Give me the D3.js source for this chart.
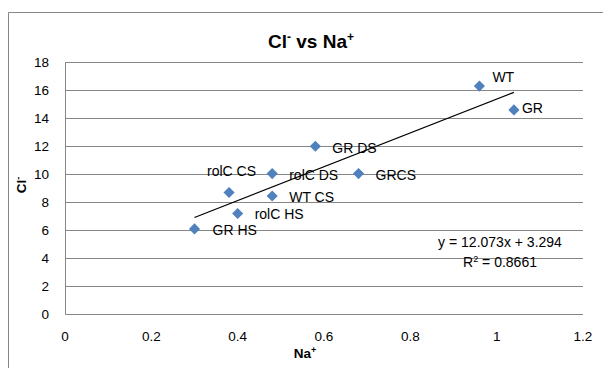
<!DOCTYPE html>
<html>
<head>
<meta charset="utf-8">
<script src="https://cdn.jsdelivr.net/npm/d3@7"></script>
<style>
	body { margin: 0; background: #fff; }
	svg { display: block; font-family: "Liberation Sans", Arial, sans-serif; }
</style>
</head>
<body>
<div id="chart"></div>
<script>
// data
var names = ["WT", "GR", "GR DS", "rolC DS", "GRCS", "rolC CS", "WT CS", "rolC HS", "GR HS"];
var na = [0.96, 1.04, 0.58, 0.48, 0.68, 0.38, 0.48, 0.40, 0.30];
var cl = [16.3, 14.6, 12.0, 10.05, 10.05, 8.7, 8.45, 7.2, 6.1];
var xTicks = [0, 0.2, 0.4, 0.6, 0.8, 1, 1.2];
var yTicks = [0, 2, 4, 6, 8, 10, 12, 14, 16, 18];
var slope = 12.073;
var intercept = 3.294;
var eqText = "y = 12.073x + 3.294";
var r2Text = "0.8661";

var w = 603, h = 368;
var xrange = [65, 583];
var yrange = [314.3, 62.3];
var grid = "#868686";
var blue = "#4F81BD";

// label offsets (dx, dy from the marker), some labels were moved by hand
var labelOff = {
	"WT": [13, -9], "GR": [8, -2], "GR DS": [17, 2], "rolC DS": [17, 1],
	"GRCS": [17, 1], "rolC CS": [-22, -21], "WT CS": [17, 1],
	"rolC HS": [17, 1], "GR HS": [18, 1]
};

var svg = d3.select("#chart").append("svg")
	.attr("width", w)
	.attr("height", h);

// outer chart border (runs off the right and bottom)
svg.append("path")
	.attr("d", "M8.5," + (h + 5) + "V12.5H" + (w + 5))
	.attr("fill", "none")
	.attr("stroke", grid)
	.attr("stroke-width", 1);

var xscale = d3.scaleLinear().domain([0, 1.2]).range(xrange);
var yscale = d3.scaleLinear().domain([0, 18]).range(yrange);

// horizontal grid
svg.selectAll("line.y-grid")
	.data(yTicks.filter(function(d){ return d > 0; }))
	.enter().append("line")
		.attr("class", "y-grid")
		.attr("x1", xrange[0])
		.attr("x2", xrange[1])
		.attr("y1", function(d){ return Math.round(yscale(d)) + 0.5; })
		.attr("y2", function(d){ return Math.round(yscale(d)) + 0.5; })
		.attr("stroke", grid)
		.attr("stroke-width", 1);

// axis lines
svg.append("path")
	.attr("d", "M" + (xrange[0] + 0.5) + "," + Math.round(yrange[1]) + "V" + (Math.round(yrange[0]) + 0.5) + "H" + xrange[1])
	.attr("fill", "none")
	.attr("stroke", grid)
	.attr("stroke-width", 1);

// tick labels
svg.selectAll("text.y-tick")
	.data(yTicks)
	.enter().append("text")
		.attr("class", "y-tick")
		.attr("x", 49)
		.attr("y", function(d){ return yscale(d); })
		.attr("dy", "0.35em")
		.attr("text-anchor", "end")
		.style("font-size", "13.5px")
		.attr("fill", "#000")
		.text(function(d){ return d; });

svg.selectAll("text.x-tick")
	.data(xTicks)
	.enter().append("text")
		.attr("class", "x-tick")
		.attr("x", function(d){ return xscale(d); })
		.attr("y", 341)
		.attr("text-anchor", "middle")
		.style("font-size", "13.5px")
		.attr("fill", "#000")
		.text(function(d){ return d; });

// title
var title = svg.append("text")
	.attr("x", 311)
	.attr("y", 48)
	.attr("text-anchor", "middle")
	.style("font-size", "19px")
	.style("font-weight", "bold");
title.append("tspan").text("Cl");
title.append("tspan").attr("dy", -7).style("font-size", "12px").text("-");
title.append("tspan").attr("dy", 7).text(" vs Na");
title.append("tspan").attr("dy", -7).style("font-size", "12px").text("+");

// axis titles
var xt = svg.append("text")
	.attr("x", 305)
	.attr("y", 358)
	.attr("text-anchor", "middle")
	.style("font-size", "13.5px")
	.style("font-weight", "bold");
xt.append("tspan").text("Na");
xt.append("tspan").attr("dy", -5).style("font-size", "9px").text("+");

var yt = svg.append("text")
	.attr("transform", "translate(26,185) rotate(-90)")
	.attr("text-anchor", "middle")
	.style("font-size", "13.5px")
	.style("font-weight", "bold");
yt.append("tspan").text("Cl");
yt.append("tspan").attr("dy", -5).style("font-size", "9px").text("-");

// trendline over the data range
var xmin = d3.min(na), xmax = d3.max(na);
svg.append("line")
	.attr("x1", xscale(xmin))
	.attr("y1", yscale(slope * xmin + intercept))
	.attr("x2", xscale(xmax))
	.attr("y2", yscale(slope * xmax + intercept))
	.attr("stroke", "#000")
	.attr("stroke-width", 1.2);

// points
var diamond = d3.symbol().type(d3.symbolSquare).size(62);
svg.selectAll("path.data-points")
	.data(names)
	.enter().append("path")
		.attr("class", "data-points")
		.attr("d", diamond)
		.attr("fill", blue)
		.attr("transform", function(d, i){
			return "translate(" + xscale(na[i]) + "," + yscale(cl[i]) + ") rotate(45)";
		});

// data labels
svg.selectAll("text.data-label")
	.data(names)
	.enter().append("text")
		.attr("class", "data-label")
		.attr("x", function(d, i){ return xscale(na[i]) + labelOff[d][0]; })
		.attr("y", function(d, i){ return yscale(cl[i]) + labelOff[d][1]; })
		.attr("dy", "0.35em")
		.style("font-size", "14px")
		.attr("fill", "#000")
		.text(function(d){ return d; });

// trendline equation
svg.append("text")
	.attr("x", 500)
	.attr("y", 242)
	.attr("dy", "0.35em")
	.attr("text-anchor", "middle")
	.style("font-size", "14px")
	.text(eqText);
var r2 = svg.append("text")
	.attr("x", 500)
	.attr("y", 262)
	.attr("dy", "0.35em")
	.attr("text-anchor", "middle")
	.style("font-size", "14px");
r2.append("tspan").text("R");
r2.append("tspan").attr("dy", -5).style("font-size", "9px").text("2");
r2.append("tspan").attr("dy", 5).text(" = " + r2Text);
</script>
</body>
</html>
